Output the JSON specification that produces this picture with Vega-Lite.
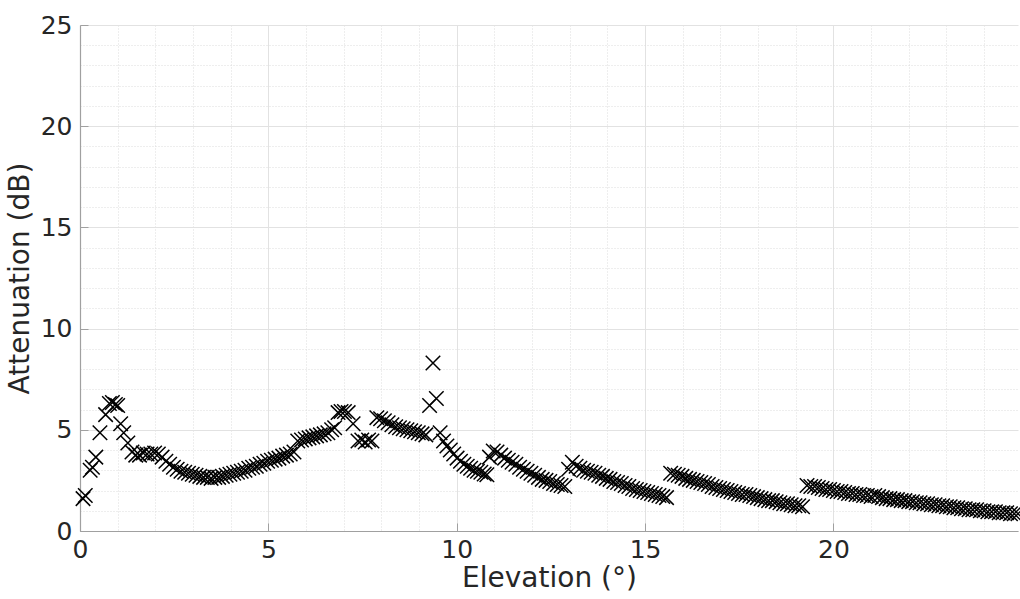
{
  "$schema": "https://vega.github.io/schema/vega-lite/v6.json",
  "autosize": "none",
  "width": 938,
  "height": 506,
  "padding": {"left": 80, "top": 25, "right": 2, "bottom": 68},
  "background": "white",
  "config": {
    "view": {"stroke": null},
    "font": "DejaVu Sans"
  },
  "data": {"values": [
    {"e":0.08,"a":1.6},{"e":0.14,"a":1.75},{"e":0.27,"a":3.0},{"e":0.33,"a":3.15},{"e":0.42,"a":3.65},{"e":0.53,"a":4.85},{"e":0.68,"a":5.75},{"e":0.78,"a":6.3},{"e":0.86,"a":6.35},{"e":0.94,"a":6.25},{"e":1.0,"a":6.2},
    {"e":1.08,"a":5.3},{"e":1.16,"a":4.85},{"e":1.27,"a":4.35},{"e":1.38,"a":3.9},{"e":1.48,"a":3.75},{"e":1.58,"a":3.75},{"e":1.68,"a":3.85},{"e":1.78,"a":3.8},{"e":1.88,"a":3.8},{"e":1.98,"a":3.85},{"e":2.08,"a":3.8},{"e":2.18,"a":3.65},{"e":2.28,"a":3.45},{"e":2.38,"a":3.3},{"e":2.48,"a":3.15},{"e":2.58,"a":3.05},{"e":2.68,"a":2.95},{"e":2.78,"a":2.9},{"e":2.88,"a":2.85},{"e":2.98,"a":2.8},{"e":3.08,"a":2.75},{"e":3.18,"a":2.7},{"e":3.28,"a":2.65},{"e":3.38,"a":2.65},{"e":3.48,"a":2.6},{"e":3.58,"a":2.65},{"e":3.68,"a":2.65},{"e":3.78,"a":2.7},{"e":3.88,"a":2.75},{"e":3.98,"a":2.8},{"e":4.08,"a":2.85},{"e":4.18,"a":2.9},{"e":4.28,"a":2.95},{"e":4.38,"a":3.0},{"e":4.48,"a":3.1},{"e":4.58,"a":3.15},{"e":4.68,"a":3.2},{"e":4.78,"a":3.3},{"e":4.88,"a":3.35},{"e":4.98,"a":3.45},{"e":5.08,"a":3.5},{"e":5.18,"a":3.55},{"e":5.28,"a":3.6},{"e":5.38,"a":3.7},{"e":5.48,"a":3.75},{"e":5.58,"a":3.8},{"e":5.68,"a":3.9},
    {"e":5.78,"a":4.45},{"e":5.88,"a":4.5},{"e":5.98,"a":4.55},{"e":6.08,"a":4.6},{"e":6.18,"a":4.65},{"e":6.28,"a":4.7},{"e":6.38,"a":4.75},{"e":6.48,"a":4.8},{"e":6.58,"a":4.85},{"e":6.68,"a":5.0},{"e":6.76,"a":5.1},
    {"e":6.85,"a":5.85},{"e":6.93,"a":5.9},{"e":7.02,"a":5.9},{"e":7.12,"a":5.85},{"e":7.25,"a":5.3},{"e":7.38,"a":4.45},{"e":7.48,"a":4.5},{"e":7.57,"a":4.4},{"e":7.66,"a":4.5},{"e":7.75,"a":4.45},
    {"e":7.88,"a":5.6},{"e":7.98,"a":5.55},{"e":8.08,"a":5.45},{"e":8.18,"a":5.35},{"e":8.28,"a":5.25},{"e":8.38,"a":5.15},{"e":8.48,"a":5.1},{"e":8.58,"a":5.05},{"e":8.68,"a":5.0},{"e":8.78,"a":4.95},{"e":8.88,"a":4.9},{"e":8.98,"a":4.85},{"e":9.08,"a":4.8},{"e":9.18,"a":4.75},
    {"e":9.28,"a":6.2},{"e":9.37,"a":8.3},{"e":9.46,"a":6.55},{"e":9.56,"a":4.85},{"e":9.65,"a":4.45},{"e":9.74,"a":4.2},{"e":9.83,"a":4.0},{"e":9.92,"a":3.8},{"e":10.01,"a":3.6},{"e":10.1,"a":3.45},{"e":10.19,"a":3.3},{"e":10.28,"a":3.2},{"e":10.37,"a":3.1},{"e":10.46,"a":3.0},{"e":10.55,"a":2.95},{"e":10.64,"a":2.9},{"e":10.73,"a":2.82},{"e":10.8,"a":2.78},
    {"e":10.87,"a":3.65},{"e":10.97,"a":3.95},{"e":11.07,"a":3.9},{"e":11.17,"a":3.75},{"e":11.27,"a":3.6},{"e":11.37,"a":3.5},{"e":11.47,"a":3.4},{"e":11.57,"a":3.3},{"e":11.67,"a":3.15},{"e":11.77,"a":3.05},{"e":11.87,"a":2.95},{"e":11.97,"a":2.85},{"e":12.07,"a":2.75},{"e":12.17,"a":2.65},{"e":12.27,"a":2.55},{"e":12.37,"a":2.5},{"e":12.47,"a":2.45},{"e":12.57,"a":2.35},{"e":12.67,"a":2.3},{"e":12.77,"a":2.25},{"e":12.87,"a":2.2},
    {"e":12.97,"a":3.05},{"e":13.07,"a":3.4},{"e":13.17,"a":3.2},{"e":13.27,"a":3.1},{"e":13.37,"a":3.0},{"e":13.47,"a":2.95},{"e":13.57,"a":2.9},{"e":13.67,"a":2.85},{"e":13.77,"a":2.75},{"e":13.87,"a":2.7},{"e":13.97,"a":2.6},{"e":14.07,"a":2.55},{"e":14.17,"a":2.45},{"e":14.27,"a":2.4},{"e":14.37,"a":2.35},{"e":14.47,"a":2.25},{"e":14.57,"a":2.2},{"e":14.67,"a":2.1},{"e":14.77,"a":2.05},{"e":14.87,"a":2.0},{"e":14.97,"a":1.95},{"e":15.07,"a":1.9},{"e":15.17,"a":1.85},{"e":15.27,"a":1.8},{"e":15.37,"a":1.75},{"e":15.47,"a":1.7},{"e":15.57,"a":1.65},
    {"e":15.68,"a":2.85},{"e":15.78,"a":2.8},{"e":15.88,"a":2.75},{"e":15.98,"a":2.7},{"e":16.08,"a":2.6},{"e":16.18,"a":2.55},{"e":16.28,"a":2.5},{"e":16.38,"a":2.45},{"e":16.48,"a":2.4},{"e":16.58,"a":2.35},{"e":16.68,"a":2.3},{"e":16.78,"a":2.2},{"e":16.88,"a":2.15},{"e":16.98,"a":2.1},{"e":17.08,"a":2.05},{"e":17.18,"a":2.0},{"e":17.28,"a":1.95},{"e":17.38,"a":1.9},{"e":17.48,"a":1.85},{"e":17.58,"a":1.8},{"e":17.68,"a":1.8},{"e":17.78,"a":1.75},{"e":17.88,"a":1.7},{"e":17.98,"a":1.65},{"e":18.08,"a":1.6},{"e":18.18,"a":1.55},{"e":18.28,"a":1.5},{"e":18.38,"a":1.5},{"e":18.48,"a":1.45},{"e":18.58,"a":1.4},{"e":18.68,"a":1.35},{"e":18.78,"a":1.35},{"e":18.88,"a":1.3},{"e":18.98,"a":1.25},{"e":19.08,"a":1.25},{"e":19.18,"a":1.2},
    {"e":19.3,"a":2.25},{"e":19.4,"a":2.2},{"e":19.5,"a":2.2},{"e":19.6,"a":2.15},{"e":19.7,"a":2.1},{"e":19.8,"a":2.05},{"e":19.9,"a":2.05},{"e":20.0,"a":2.0},{"e":20.1,"a":1.95},{"e":20.2,"a":1.95},{"e":20.3,"a":1.9},{"e":20.4,"a":1.85},{"e":20.5,"a":1.85},{"e":20.6,"a":1.8},{"e":20.7,"a":1.8},{"e":20.8,"a":1.75},{"e":20.9,"a":1.75},{"e":21.0,"a":1.7},{"e":21.1,"a":1.75},{"e":21.2,"a":1.7},{"e":21.3,"a":1.65},{"e":21.4,"a":1.6},{"e":21.5,"a":1.6},{"e":21.6,"a":1.55},{"e":21.7,"a":1.55},{"e":21.8,"a":1.5},{"e":21.9,"a":1.5},{"e":22.0,"a":1.45},{"e":22.1,"a":1.45},{"e":22.2,"a":1.4},{"e":22.3,"a":1.4},{"e":22.4,"a":1.35},{"e":22.5,"a":1.35},{"e":22.6,"a":1.3},{"e":22.7,"a":1.3},{"e":22.8,"a":1.25},{"e":22.9,"a":1.25},{"e":23.0,"a":1.2},{"e":23.1,"a":1.2},{"e":23.2,"a":1.15},{"e":23.3,"a":1.15},{"e":23.4,"a":1.1},{"e":23.5,"a":1.1},{"e":23.6,"a":1.05},{"e":23.7,"a":1.05},{"e":23.8,"a":1.05},{"e":23.9,"a":1.0},{"e":24.0,"a":1.0},{"e":24.1,"a":0.95},{"e":24.2,"a":0.95},{"e":24.3,"a":0.95},{"e":24.4,"a":0.9},{"e":24.5,"a":0.9},{"e":24.6,"a":0.9},{"e":24.7,"a":0.85},{"e":24.8,"a":0.85},{"e":24.9,"a":0.85}
  ]},
  "mark": {
    "type": "point",
    "shape": "M-1,-1L1,1M-1,1L1,-1",
    "filled": false,
    "stroke": "black",
    "strokeWidth": 1.5,
    "size": 210,
    "opacity": 1,
    "clip": false
  },
  "encoding": {
    "x": {
      "field": "e",
      "type": "quantitative",
      "scale": {"domain": [0, 24.9], "nice": false, "zero": false},
      "axis": {
        "title": "Elevation (°)",
        "titleFontSize": 28,
        "titleFontWeight": "normal",
        "titleColor": "#262626",
        "titlePadding": 2,
        "values": [0,1,2,3,4,5,6,7,8,9,10,11,12,13,14,15,16,17,18,19,20,21,22,23,24],
        "labelExpr": "datum.value % 5 === 0 ? datum.label : ''",
        "labelFontSize": 25,
        "labelColor": "#262626",
        "labelPadding": 14,
        "labelFlush": false,
        "labelOverlap": false,
        "domainColor": "#a0a0a0",
        "domainWidth": 1.2,
        "tickColor": "#a0a0a0",
        "tickSize": -8,
        "tickOpacity": {"condition": {"test": "datum.value % 5 === 0", "value": 1}, "value": 0},
        "grid": true,
        "gridColor": {"condition": {"test": "datum.value % 5 === 0", "value": "#e2e2e2"}, "value": "#dcdcdc"},
        "gridDash": {"condition": {"test": "datum.value % 5 === 0", "value": []}, "value": [1, 2]},
        "gridWidth": 1
      }
    },
    "y": {
      "field": "a",
      "type": "quantitative",
      "scale": {"domain": [0, 25], "nice": false},
      "axis": {
        "title": "Attenuation (dB)",
        "titleFontSize": 28,
        "titleFontWeight": "normal",
        "titleColor": "#262626",
        "titlePadding": 6,
        "values": [0,1,2,3,4,5,6,7,8,9,10,11,12,13,14,15,16,17,18,19,20,21,22,23,24,25],
        "labelExpr": "datum.value % 5 === 0 ? datum.label : ''",
        "labelFontSize": 25,
        "labelColor": "#262626",
        "labelPadding": 16,
        "labelFlush": false,
        "labelOverlap": false,
        "domainColor": "#a0a0a0",
        "domainWidth": 1.2,
        "tickColor": "#a0a0a0",
        "tickSize": -8,
        "tickOpacity": {"condition": {"test": "datum.value % 5 === 0", "value": 1}, "value": 0},
        "grid": true,
        "gridColor": {"condition": {"test": "datum.value % 5 === 0", "value": "#e2e2e2"}, "value": "#dcdcdc"},
        "gridDash": {"condition": {"test": "datum.value % 5 === 0", "value": []}, "value": [1, 2]},
        "gridWidth": 1
      }
    }
  }
}
